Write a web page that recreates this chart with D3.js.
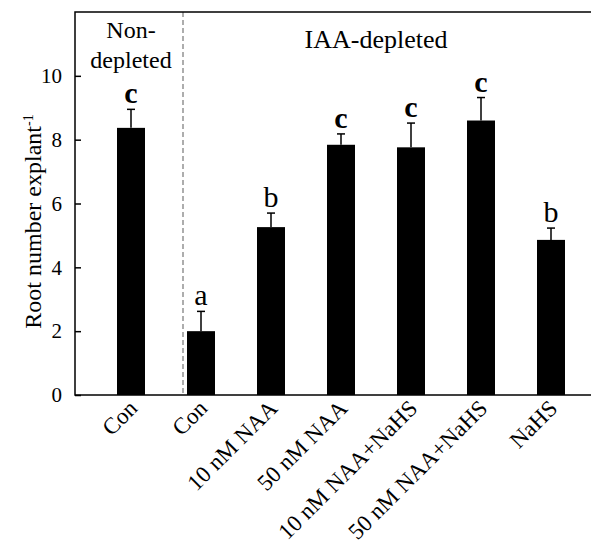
<!DOCTYPE html>
<html>
<head>
<meta charset="utf-8">
<script src="https://cdn.jsdelivr.net/npm/d3@7"></script>
<style>
  body { margin: 0; background: #fff; }
  svg { display: block; }
  text { font-family: "Liberation Serif", "Times New Roman", serif; fill: #000; }
</style>
</head>
<body>
<svg id="chart" width="591" height="547"></svg>
<script>
const categories = ["Con", "Con", "10 nM NAA", "50 nM NAA", "10 nM NAA+NaHS", "50 nM NAA+NaHS", "NaHS"];
const means = [8.37, 2.0, 5.26, 7.84, 7.76, 8.60, 4.86];
const errors = [0.58, 0.62, 0.44, 0.34, 0.76, 0.72, 0.37];
const letters = ["c", "a", "b", "c", "c", "c", "b"];
const yTicks = [0, 2, 4, 6, 8, 10];
const groupLabels = ["Non-\ndepleted", "IAA-depleted"];

const svg = d3.select("#chart");
const pL = 75, pT = 12, pB = 395, pR = 607;

const x = d3.scaleBand().domain(d3.range(categories.length))
  .range([pL, pR]).paddingInner(0.6).paddingOuter(0.6);
const y = d3.scaleLinear().domain([0, 12]).range([pB, pT]);

// dashed separator
const sepX = x(1) - 4;
svg.append("line").attr("x1", sepX).attr("x2", sepX).attr("y1", pT).attr("y2", pB)
  .attr("stroke", "#777").attr("stroke-width", 1.2).attr("stroke-dasharray", "5,3");

// bars
svg.selectAll("rect.bar").data(means).join("rect").attr("class", "bar")
  .attr("x", (d, i) => x(i)).attr("width", x.bandwidth())
  .attr("y", d => y(d)).attr("height", d => y(0) - y(d)).attr("fill", "#000");

// error bars
const eb = svg.selectAll("g.err").data(means).join("g").attr("class", "err");
eb.append("line")
  .attr("x1", (d, i) => x(i) + x.bandwidth() / 2).attr("x2", (d, i) => x(i) + x.bandwidth() / 2)
  .attr("y1", d => y(d)).attr("y2", (d, i) => y(d + errors[i]))
  .attr("stroke", "#000").attr("stroke-width", 1.5);
eb.append("line")
  .attr("x1", (d, i) => x(i) + x.bandwidth() / 2 - 4).attr("x2", (d, i) => x(i) + x.bandwidth() / 2 + 4)
  .attr("y1", (d, i) => y(d + errors[i])).attr("y2", (d, i) => y(d + errors[i]))
  .attr("stroke", "#000").attr("stroke-width", 1.5);

// significance letters
svg.selectAll("text.sig").data(means).join("text").attr("class", "sig")
  .attr("x", (d, i) => x(i) + x.bandwidth() / 2)
  .attr("y", (d, i) => y(d + errors[i]) - 6)
  .attr("text-anchor", "middle")
  .style("font-size", "30px")
  .style("font-weight", (d, i) => letters[i] === "c" ? "bold" : "normal")
  .text((d, i) => letters[i]);

// y axis
const yAxis = d3.axisLeft(y).tickValues(yTicks).tickSizeInner(-6).tickSizeOuter(0).tickPadding(13);
const ga = svg.append("g").attr("transform", `translate(${pL},0)`).call(yAxis)
  .attr("font-family", "Liberation Serif, serif");
ga.select(".domain").remove();
ga.selectAll(".tick line").attr("stroke", "#000").attr("stroke-width", 1.5);
ga.selectAll(".tick text").style("font-size", "21px");

// frame
svg.append("rect").attr("x", pL).attr("y", pT).attr("width", pR - pL).attr("height", pB - pT)
  .attr("fill", "none").attr("stroke", "#000").attr("stroke-width", 1.5);

// x labels
svg.selectAll("text.xl").data(categories).join("text").attr("class", "xl")
  .attr("transform", (d, i) => `translate(${x(i) + x.bandwidth() / 2 + 2},${pB + 9}) rotate(-45)`)
  .attr("text-anchor", "end")
  .attr("dy", "0.35em")
  .style("font-size", "23px")
  .text(d => d);

// y title
const yt = svg.append("text").attr("transform", `translate(41,${(pT + pB) / 2 + 18}) rotate(-90)`)
  .attr("text-anchor", "middle").style("font-size", "24px");
yt.append("tspan").text("Root number explant");
yt.append("tspan").attr("dy", "-0.6em").style("font-size", "14px").text("-1");

// group labels
const g1 = svg.append("text").attr("x", x(0) + x.bandwidth() / 2).attr("y", 38)
  .attr("text-anchor", "middle").style("font-size", "24px");
groupLabels[0].split("\n").forEach((t, k) => {
  g1.append("tspan").attr("x", x(0) + x.bandwidth() / 2).attr("dy", k === 0 ? 0 : "1.25em").text(t);
});
svg.append("text").attr("x", 376).attr("y", 48).attr("text-anchor", "middle")
  .style("font-size", "26px").text(groupLabels[1]);
</script>
</body>
</html>
